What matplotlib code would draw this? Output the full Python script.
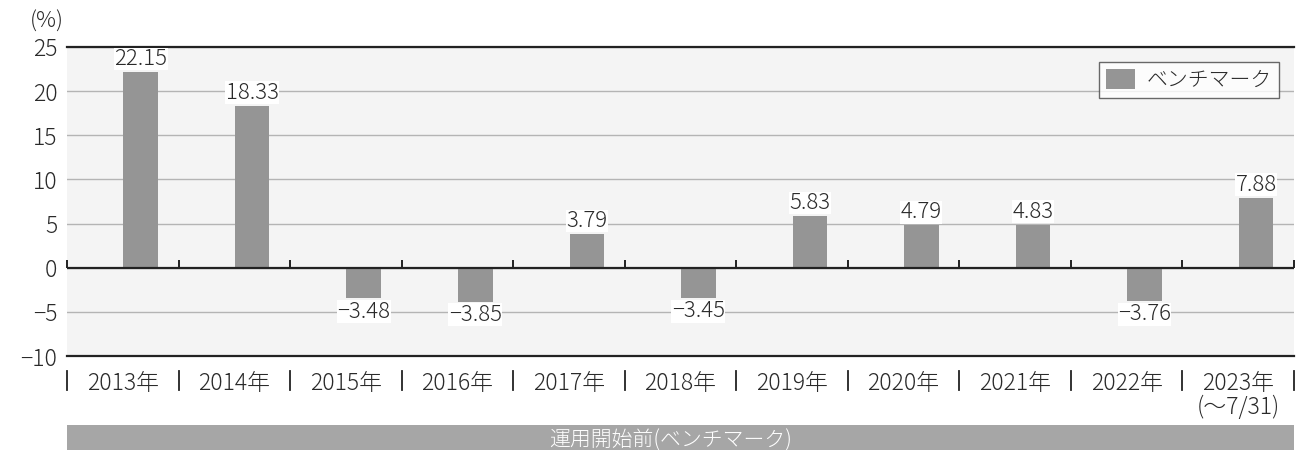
import matplotlib
matplotlib.use("Agg")
import matplotlib.pyplot as plt
import numpy as np
from matplotlib.patches import Rectangle

plt.rcParams['font.family'] = ['Noto Sans CJK JP', 'DejaVu Sans']
plt.rcParams['font.weight'] = 'light'
plt.rcParams['axes.unicode_minus'] = True

# data
years = ["2013年", "2014年", "2015年", "2016年", "2017年", "2018年",
         "2019年", "2020年", "2021年", "2022年", "2023年\n(～7/31)"]
benchmark = [22.15, 18.33, -3.48, -3.85, 3.79, -3.45, 5.83, 4.79, 4.83, -3.76, 7.88]
series_name = "ベンチマーク"
band_label = "運用開始前(ベンチマーク)"

bar_color = "#959595"
text_color = "#2a2a2a"

fig = plt.figure(figsize=(12.96, 4.5), dpi=100)
ax = fig.add_axes([67 / 1296, 1 - 356 / 450, (1294 - 67) / 1296, (356 - 47) / 450])
ax.set_facecolor("#f4f4f4")

n = len(years)
x = np.arange(n)
bars = ax.bar(x + 0.16, benchmark, width=0.31, color=bar_color, zorder=3, label=series_name)

ax.set_xlim(-0.5, n - 0.5)
ax.set_ylim(-10, 25)
ax.set_yticks(np.arange(-10, 26, 5))
ax.set_yticklabels([f"{v:d}".replace("-", "−") for v in range(-10, 26, 5)],
                   fontsize=16.5, color=text_color)
ax.tick_params(axis="y", length=0, pad=7)
ax.grid(axis="y", color="#b4b4b4", linewidth=1, zorder=1)
ax.axhline(0, color="#222222", linewidth=1.6, zorder=4)

for s in ["left", "right"]:
    ax.spines[s].set_visible(False)
for s in ["top", "bottom"]:
    ax.spines[s].set_color("#222222")
    ax.spines[s].set_linewidth(1.6)

# small ticks on the zero line at category boundaries
bounds = np.arange(n + 1) - 0.5
ax.vlines(bounds, 0, 0.85, color="#222222", linewidth=1.4, zorder=4, clip_on=False)

# year labels and separators
ax.set_xticks(x)
ax.set_xticklabels(years, fontsize=16.5, color=text_color, linespacing=0.92)
ax.tick_params(axis="x", length=0, pad=11)
xt = ax.get_xaxis_transform()
for b in bounds:
    ax.plot([b, b], [-0.05, -0.11], transform=xt, color="#222222", lw=1.3, clip_on=False)

# value labels
for xi, v in zip(x, benchmark):
    off = 0.25 if v >= 0 else -0.25
    ax.text(xi + 0.16, v + off, f"{v:.2f}".replace("-", "−"), ha="center",
            va="bottom" if v >= 0 else "top", fontsize=16, color=text_color, zorder=5,
            bbox=dict(facecolor="white", edgecolor="none", pad=0.3))

leg = ax.legend(loc="upper right", bbox_to_anchor=(0.988, 0.952), borderaxespad=0,
                fontsize=15, frameon=True, fancybox=False, edgecolor="#444444",
                handlelength=1.4, handleheight=1.1, borderpad=0.35, handletextpad=0.55)
leg.get_frame().set_linewidth(1.0)
for t in leg.get_texts():
    t.set_color(text_color)

fig.text(30 / 1296, 1 - 22 / 450, "(%)", fontsize=16, color=text_color, va="center")

# bottom band
fig.patches.append(Rectangle((67 / 1296, 0), (1294 - 67) / 1296, 25 / 450,
                             transform=fig.transFigure, facecolor="#a6a6a6",
                             edgecolor="none"))
fig.text(671 / 1296, 9 / 450, band_label, ha="center", va="center",
         fontsize=15, color="white")

fig.savefig("out.png", dpi=100)
